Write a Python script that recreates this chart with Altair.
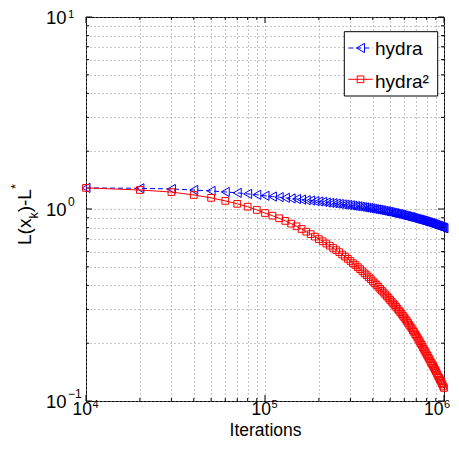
import altair as alt
import pandas as pd

# ---------------- data ----------------
iterations = list(range(10000, 1000001, 10000))

hydra = [
    1.288, 1.282, 1.271, 1.256, 1.242, 1.227, 1.213, 1.199, 1.186, 1.172,
    1.161, 1.153, 1.143, 1.135, 1.127, 1.119, 1.112, 1.107, 1.099, 1.094,
    1.089, 1.081, 1.076, 1.072, 1.067, 1.062, 1.057, 1.054, 1.050, 1.045,
    1.040, 1.035, 1.033, 1.028, 1.023, 1.019, 1.014, 1.012, 1.007, 1.002,
    0.998, 0.993, 0.991, 0.986, 0.982, 0.977, 0.973, 0.971, 0.966, 0.962,
    0.957, 0.953, 0.951, 0.946, 0.942, 0.938, 0.933, 0.931, 0.927, 0.923,
    0.918, 0.916, 0.912, 0.908, 0.906, 0.902, 0.897, 0.893, 0.891, 0.887,
    0.883, 0.881, 0.877, 0.875, 0.871, 0.867, 0.865, 0.861, 0.859, 0.855,
    0.851, 0.849, 0.845, 0.843, 0.839, 0.836, 0.834, 0.830, 0.828, 0.824,
    0.820, 0.818, 0.815, 0.813, 0.809, 0.805, 0.803, 0.800, 0.798, 0.794,
]

hydra2 = [
    1.288, 1.256, 1.225, 1.183, 1.143, 1.102, 1.064, 1.028, 0.989, 0.953,
    0.923, 0.895, 0.867, 0.839, 0.813, 0.787, 0.762, 0.740, 0.718, 0.697,
    0.679, 0.661, 0.644, 0.627, 0.611, 0.596, 0.579, 0.565, 0.550, 0.536,
    0.522, 0.511, 0.498, 0.486, 0.474, 0.462, 0.452, 0.441, 0.431, 0.420,
    0.410, 0.402, 0.393, 0.384, 0.375, 0.367, 0.359, 0.351, 0.344, 0.336,
    0.329, 0.322, 0.316, 0.309, 0.302, 0.296, 0.290, 0.284, 0.278, 0.272,
    0.266, 0.261, 0.255, 0.249, 0.244, 0.239, 0.233, 0.229, 0.223, 0.219,
    0.214, 0.209, 0.205, 0.200, 0.196, 0.191, 0.187, 0.183, 0.179, 0.175,
    0.172, 0.168, 0.165, 0.161, 0.158, 0.155, 0.152, 0.149, 0.146, 0.143,
    0.140, 0.137, 0.134, 0.132, 0.129, 0.127, 0.124, 0.122, 0.119, 0.117,
]

series_names = ["hydra", "hydra\u00b2"]

x_major = [1e4, 1e5, 1e6]
x_minor = [2e4, 3e4, 4e4, 5e4, 6e4, 7e4, 8e4, 9e4,
           2e5, 3e5, 4e5, 5e5, 6e5, 7e5, 8e5, 9e5]
y_major = [0.1, 1, 10]
y_minor = [0.2, 0.3, 0.4, 0.5, 0.6, 0.7, 0.8, 0.9,
           2, 3, 4, 5, 6, 7, 8, 9]
x_exps = ["4", "5", "6"]
y_exps = ["\u22121", "0", "1"]

# ---------------- styling ----------------
F = "Liberation Sans"
W, H = 358, 384
BLUE, RED = "#0000ff", "#ff0000"

df_h = pd.DataFrame({"x": iterations, "y": hydra})
df_h2 = pd.DataFrame({"x": iterations, "y": hydra2})
one = pd.DataFrame({"a": [0]})

xs = alt.Scale(type="log", domain=[1e4, 1e6], nice=False)
ys = alt.Scale(type="log", domain=[0.1, 10], nice=False)

grid_x = sorted(x_major + x_minor)
grid_y = sorted(y_major + y_minor)

X = alt.X("x:Q", scale=xs, axis=alt.Axis(
    values=grid_x, labels=False, ticks=False, domain=False, grid=True,
    gridColor="#8a8a8a", gridDash=[1, 3], gridWidth=1,
    title="Iterations", titleFont=F, titleFontSize=17.5, titleFontWeight="normal",
    titleColor="black", titleBaseline="alphabetic", titleY=34))
Y = alt.Y("y:Q", scale=ys, axis=alt.Axis(
    values=grid_y, labels=False, ticks=False, domain=False, grid=True,
    gridColor="#8a8a8a", gridDash=[1, 3], gridWidth=1, title=None))

line_h = alt.Chart(df_h).mark_line(color=BLUE, strokeWidth=1, strokeDash=[5, 3]).encode(x=X, y=Y)
pts_h = alt.Chart(df_h).mark_point(shape="triangle-left", filled=False, size=85,
                                   color=BLUE, strokeWidth=1, opacity=1).encode(x="x:Q", y="y:Q")
line_h2 = alt.Chart(df_h2).mark_line(color=RED, strokeWidth=1).encode(x="x:Q", y="y:Q")
pts_h2 = alt.Chart(df_h2).mark_point(shape="square", filled=False, size=45,
                                     color=RED, strokeWidth=1, opacity=1).encode(x="x:Q", y="y:Q")

# inward ticks on all four sides
def xticks(vals, length):
    d = pd.DataFrame({"x": vals})
    b = alt.Chart(d).mark_rule(color="black", strokeWidth=1).encode(
        x="x:Q", y=alt.value(H), y2=alt.value(H - length))
    t = alt.Chart(d).mark_rule(color="black", strokeWidth=1).encode(
        x="x:Q", y=alt.value(0), y2=alt.value(length))
    return [b, t]

def yticks(vals, length):
    d = pd.DataFrame({"y": vals})
    l = alt.Chart(d).mark_rule(color="black", strokeWidth=1).encode(
        y="y:Q", x=alt.value(0), x2=alt.value(length))
    r = alt.Chart(d).mark_rule(color="black", strokeWidth=1).encode(
        y="y:Q", x=alt.value(W), x2=alt.value(W - length))
    return [l, r]

ticks = xticks(x_major, 6) + xticks(x_minor, 3) + yticks(y_major, 6) + yticks(y_minor, 3)

# tick labels 10^n
xl = pd.DataFrame({"x": x_major, "e": x_exps})
def xlabels(d, dx10, dxe):
    a = alt.Chart(d).mark_text(text="10", align="right", baseline="alphabetic", dx=dx10,
                               font=F, fontSize=17.5, color="black").encode(
        x="x:Q", y=alt.value(398))
    b = alt.Chart(d).mark_text(align="left", baseline="alphabetic", dx=dxe,
                               font=F, fontSize=11, color="black").encode(
        x="x:Q", y=alt.value(391), text="e:N")
    return [a, b]

x_labels = xlabels(xl.iloc[:2], 6, 6.5) + xlabels(xl.iloc[2:], -0.5, 0)

yl = pd.DataFrame({"y": y_major, "e": y_exps})
y_lab = alt.Chart(yl).mark_text(text="10", align="right", baseline="alphabetic", dy=6.5,
                                font=F, fontSize=18.5, color="black").encode(
    y="y:Q", x=alt.value(-19.5))
y_exp_low = alt.Chart(yl.iloc[:2]).mark_text(align="left", baseline="alphabetic", dy=-3.5,
                                             font=F, fontSize=12, color="black").encode(
    y="y:Q", x=alt.value(-18), text="e:N")
y_exp_top = alt.Chart(yl.iloc[2:]).mark_text(align="left", baseline="alphabetic", dy=1,
                                             font=F, fontSize=11.5, color="black").encode(
    y="y:Q", x=alt.value(-18), text="e:N")

# y-axis title  L(x_k)-L^*
def rot_text(txt, x, y, size):
    return alt.Chart(one).mark_text(text=txt, angle=270, align="left", baseline="alphabetic",
                                    font=F, fontSize=size, color="black").encode(
        x=alt.value(x), y=alt.value(y))

ytitle = [
    rot_text("L(x", -55, 228, 19),
    rot_text("k", -48, 201.6, 12.5),
    rot_text(")-L", -55, 195.3, 19),
    rot_text("*", -66, 172.1, 13),
]

# legend
leg_box = alt.Chart(one).mark_rect(fill="white", stroke="black", strokeWidth=1).encode(
    x=alt.value(258.3), x2=alt.value(351.7), y=alt.value(14.7), y2=alt.value(79))
leg = [
    leg_box,
    alt.Chart(one).mark_rule(color=BLUE, strokeWidth=1, strokeDash=[5, 3]).encode(
        x=alt.value(262.3), x2=alt.value(286.7), y=alt.value(31)),
    alt.Chart(one).mark_point(shape="triangle-left", filled=False, size=85, color=BLUE,
                              strokeWidth=1, opacity=1).encode(x=alt.value(274.5), y=alt.value(31)),
    alt.Chart(one).mark_text(text=series_names[0], align="left", baseline="alphabetic",
                             font=F, fontSize=19, color="black").encode(
        x=alt.value(289), y=alt.value(37.5)),
    alt.Chart(one).mark_rule(color=RED, strokeWidth=1).encode(
        x=alt.value(262.3), x2=alt.value(286.7), y=alt.value(62.3)),
    alt.Chart(one).mark_point(shape="square", filled=False, size=45, color=RED,
                              strokeWidth=1, opacity=1).encode(x=alt.value(274.5), y=alt.value(62.3)),
    alt.Chart(one).mark_text(text=series_names[1], align="left", baseline="alphabetic",
                             font=F, fontSize=19, color="black").encode(
        x=alt.value(289), y=alt.value(70.5)),
]

chart = alt.layer(
    line_h, pts_h, line_h2, pts_h2, *ticks, *x_labels, y_lab, y_exp_low, y_exp_top,
    *ytitle, *leg
).properties(
    width=W, height=H,
    autosize=alt.AutoSizeParams(type="none"),
    padding={"left": 78, "top": 9, "right": 7, "bottom": 38},
    background="white",
).configure_view(stroke="black", strokeWidth=1)

chart.save("out.html", embed_options={"renderer": "svg", "actions": False})
